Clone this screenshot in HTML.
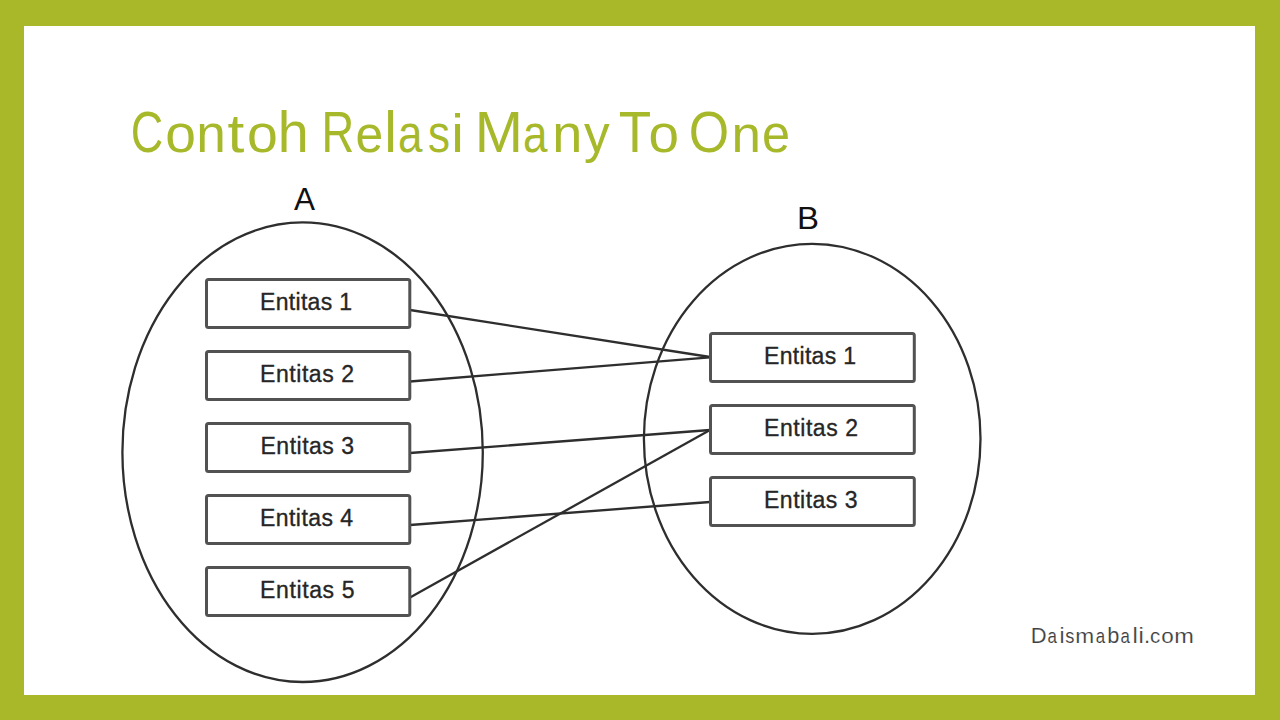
<!DOCTYPE html>
<html><head><meta charset="utf-8">
<style>
html,body{margin:0;padding:0;}
body{width:1280px;height:720px;overflow:hidden;background:#a8b829;position:relative;font-family:"Liberation Sans",sans-serif;}
#slide{position:absolute;left:24px;top:26px;width:1231px;height:669px;background:#fff;}
svg{position:absolute;left:0;top:0;}
</style></head><body>
<div id="slide"></div>
<svg width="1280" height="720" viewBox="0 0 1280 720">
  <g font-family="Liberation Sans" font-size="55" fill="#a7b92a">
    <text transform="matrix(0.8182 0 0 1.03 130.81 -4.569)" y="152.3">C</text>
    <text transform="matrix(1.0050 0 0 0.95 165.18 7.615)" y="152.3">o</text>
    <text transform="matrix(0.9673 0 0 0.95 196.37 7.615)" y="152.3">n</text>
    <text transform="matrix(1.1000 0 0 0.96 227.56 6.092)" y="152.3">t</text>
    <text transform="matrix(1.0089 0 0 0.95 246.97 7.615)" y="152.3">o</text>
    <text transform="matrix(1.0128 0 0 1.05 277.84 -7.615)" y="152.3">h</text>
    <text transform="matrix(0.8237 0 0 1.03 321.38 -4.569)" y="152.3">R</text>
    <text transform="matrix(0.9067 0 0 0.95 355.38 7.615)" y="152.3">e</text>
    <text transform="matrix(1.0343 0 0 1.05 384.17 -7.615)" y="152.3">l</text>
    <text transform="matrix(0.8000 0 0 0.95 398.08 7.615)" y="152.3">a</text>
    <text transform="matrix(0.8000 0 0 0.95 427.93 7.615)" y="152.3">s</text>
    <text transform="matrix(1.0343 0 0 0.985 451.19 2.285)" y="152.3">i</text>
    <text transform="matrix(1.0519 0 0 1.03 474.85 -4.569)" y="152.3">M</text>
    <text transform="matrix(0.8000 0 0 0.95 522.93 7.615)" y="152.3">a</text>
    <text transform="matrix(0.9823 0 0 0.95 552.21 7.615)" y="152.3">n</text>
    <text transform="matrix(0.9318 0 0 0.95 584.07 7.615)" y="152.3">y</text>
    <text transform="matrix(0.9647 0 0 1.03 618.81 -4.569)" y="152.3">T</text>
    <text transform="matrix(0.9973 0 0 0.95 648.50 7.615)" y="152.3">o</text>
    <text transform="matrix(0.9442 0 0 1.03 688.79 -4.569)" y="152.3">O</text>
    <text transform="matrix(0.9630 0 0 0.95 731.48 7.615)" y="152.3">n</text>
    <text transform="matrix(0.9183 0 0 0.95 762.05 7.615)" y="152.3">e</text>
  </g>
  <g fill="none" stroke="#2e2e2e" stroke-width="2.3">
    <ellipse cx="302.6" cy="452.2" rx="180.2" ry="229.8"/>
    <ellipse cx="812.2" cy="438.8" rx="168.3" ry="195"/>
  </g>
  <g fill="none" stroke="#2e2e2e" stroke-width="2.3">
    <line x1="410" y1="310" x2="710" y2="357"/>
    <line x1="410" y1="381.5" x2="710" y2="357.3"/>
    <line x1="410" y1="453" x2="710" y2="430"/>
    <line x1="410" y1="525" x2="710" y2="502"/>
    <line x1="410" y1="597.5" x2="710" y2="430"/>
  </g>
  <g fill="#fff" stroke="#525252" stroke-width="3">
    <rect x="206.5" y="279.5" width="203.3" height="48" rx="2"/>
    <rect x="206.5" y="351.5" width="203.3" height="48" rx="2"/>
    <rect x="206.5" y="423.5" width="203.3" height="48" rx="2"/>
    <rect x="206.5" y="495.5" width="203.3" height="48" rx="2"/>
    <rect x="206.5" y="567.5" width="203.3" height="48" rx="2"/>
    <rect x="710.5" y="333.5" width="203.8" height="48" rx="2"/>
    <rect x="710.5" y="405.5" width="203.8" height="48" rx="2"/>
    <rect x="710.5" y="477.5" width="203.8" height="48" rx="2"/>
  </g>
  <g font-family="Liberation Sans" font-size="23" fill="#262626" stroke="#262626" stroke-width="0.35">
    <text x="260" y="310" textLength="92" lengthAdjust="spacing">Entitas 1</text>
    <text x="260" y="382.2" textLength="94" lengthAdjust="spacing">Entitas 2</text>
    <text x="260.5" y="454.2" textLength="93.5" lengthAdjust="spacing">Entitas 3</text>
    <text x="260" y="526.2" textLength="93" lengthAdjust="spacing">Entitas 4</text>
    <text x="260" y="598.4" textLength="94.5" lengthAdjust="spacing">Entitas 5</text>
    <text x="764" y="364" textLength="92" lengthAdjust="spacing">Entitas 1</text>
    <text x="764" y="436" textLength="94" lengthAdjust="spacing">Entitas 2</text>
    <text x="764" y="508.2" textLength="93.5" lengthAdjust="spacing">Entitas 3</text>
  </g>
  <g font-family="Liberation Sans" font-size="32" fill="#111">
    <text x="294" y="209.6" textLength="21" lengthAdjust="spacingAndGlyphs">A</text>
    <text x="797" y="229" textLength="22" lengthAdjust="spacingAndGlyphs">B</text>
  </g>
  <g font-family="Liberation Sans" font-size="22.5" fill="#404040" stroke="#fff" stroke-width="0.15">
    <text transform="matrix(0.9755 0 0 1.020 1030.80 -12.858)" y="642.9">D</text>
    <text transform="matrix(0.7500 0 0 0.890 1047.40 70.719)" y="642.9">a</text>
    <text transform="matrix(1.0114 0 0 0.970 1059.38 19.287)" y="642.9">i</text>
    <text transform="matrix(0.8154 0 0 0.890 1065.29 70.719)" y="642.9">s</text>
    <text transform="matrix(1.0085 0 0 0.890 1075.29 70.719)" y="642.9">m</text>
    <text transform="matrix(0.7500 0 0 0.890 1095.65 70.719)" y="642.9">a</text>
    <text transform="matrix(0.9685 0 0 1.010 1107.30 -6.429)" y="642.9">b</text>
    <text transform="matrix(0.7500 0 0 0.890 1120.55 70.719)" y="642.9">a</text>
    <text transform="matrix(1.0619 0 0 1.010 1132.39 -6.429)" y="642.9">l</text>
    <text transform="matrix(1.0619 0 0 0.970 1138.40 19.287)" y="642.9">i</text>
    <text transform="matrix(0.9802 0 0 1.000 1143.99 0.000)" y="642.9">.</text>
    <text transform="matrix(0.9071 0 0 0.890 1150.03 70.719)" y="642.9">c</text>
    <text transform="matrix(0.9978 0 0 0.890 1161.16 70.719)" y="642.9">o</text>
    <text transform="matrix(1.0466 0 0 0.890 1174.34 70.719)" y="642.9">m</text>
  </g>
</svg>
</body></html>
